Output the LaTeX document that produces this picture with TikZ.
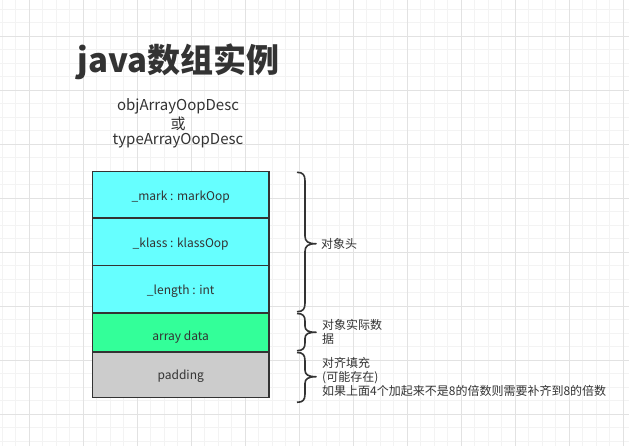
\documentclass[tikz,border=0pt]{standalone}
\usepackage{fontspec}
\setmainfont{Noto Sans CJK SC}
\definecolor{gridminor}{HTML}{F3F3F3}
\definecolor{gridmajor}{HTML}{E2E2E2}
\definecolor{inkc}{HTML}{333333}
\definecolor{cyanfill}{HTML}{66FFFF}
\definecolor{greenfill}{HTML}{33FF99}
\definecolor{grayfill}{HTML}{CCCCCC}
\tikzset{
  cell/.style={draw=inkc, line width=1.6pt, minimum width=176.7pt, inner sep=0pt, text=inkc,
    text height=10.5pt, text depth=0pt, font=\fontsize{12}{14}\selectfont},
  lbl/.style={anchor=west, align=left, inner sep=0pt, text=inkc, font=\fontsize{12}{14}\selectfont},
  bracestyle/.style={draw=inkc, line width=1.6pt, line join=round},
}
\begin{document}
\begin{tikzpicture}[x=1pt,y=-1pt]
\useasboundingbox (0,0) rectangle (629,446);
\fill[white] (0,0) rectangle (629,446);
% grid
\foreach \i in {0,...,46} {
  \draw[gridminor, line width=0.8pt] ({2.3+13.5*\i},0) -- ({2.3+13.5*\i},446);
}
\foreach \i in {0,...,33} {
  \draw[gridminor, line width=0.8pt] (0,{9+13.5*\i}) -- (629,{9+13.5*\i});
}
\foreach \i in {0,...,11} {
  \draw[gridmajor, line width=0.8pt] ({29.3+54*\i},0) -- ({29.3+54*\i},446);
}
\foreach \i in {0,...,7} {
  \draw[gridmajor, line width=0.8pt] (0,{36+54*\i}) -- (629,{36+54*\i});
}
% title
\node[text=inkc, font=\fontsize{33}{36}\selectfont\bfseries, inner sep=0pt] (title) at (178.5,62) {java数组实例};
\node[text=inkc, font=\fontsize{15}{18}\selectfont, inner sep=0pt] (sub1) at (178,106) {objArrayOopDesc};
\node[text=inkc, font=\fontsize{15}{18}\selectfont, inner sep=0pt] (sub2) at (178,124) {或};
\node[text=inkc, font=\fontsize{15}{18}\selectfont, inner sep=0pt] (sub3) at (178,141) {typeArrayOopDesc};
% boxes
\node[cell, fill=cyanfill, minimum height=46.6pt] (mark) at (180.7,195) {\_mark : markOop};
\node[cell, fill=cyanfill, minimum height=47.4pt] (klass) at (180.7,242) {\_klass : klassOop};
\node[cell, fill=cyanfill, minimum height=47pt] (len) at (180.7,289.2) {\_length : int};
\node[cell, fill=greenfill, minimum height=39pt] (arr) at (180.7,332.2) {};
\node[text=inkc, font=\fontsize{12}{14}\selectfont, inner sep=0pt, anchor=base] (arrtext) at (180.7,340) {array data};
\node[cell, fill=grayfill, minimum height=45.6pt] (pad) at (180.7,374.5) {padding};
% braces
\draw[bracestyle] (297,172.3) .. controls (303,172.3) and (305,175) .. (305,181)
  -- (305,236) .. controls (305,241.5) and (308,243.7) .. (316,243.7)
  .. controls (308,243.7) and (305,246) .. (305,251.5)
  -- (305,303) .. controls (305,309) and (303,311.7) .. (297,311.7);
\draw[bracestyle] (297,313.5) .. controls (303,313.5) and (305,316) .. (305,321)
  -- (305,326) .. controls (305,330.5) and (308,332.3) .. (316,332.3)
  .. controls (308,332.3) and (305,334) .. (305,338.5)
  -- (305,343) .. controls (305,348) and (303,350.7) .. (297,350.7);
\draw[bracestyle] (297,352.5) .. controls (303,352.5) and (305,355) .. (305,361)
  -- (305,370) .. controls (305,374.5) and (308,376.7) .. (316,376.7)
  .. controls (308,376.7) and (305,379) .. (305,383.5)
  -- (305,394) .. controls (305,400) and (303,402.3) .. (297,402.3);
% labels
\node[lbl] (l1) at (321,243.7) {对象头};
\node[lbl] (l2) at (322,332) {对象实际数\\据};
\node[lbl] (l3) at (322,377) {对齐填充\\(可能存在)\\如果上面4个加起来不是8的倍数则需要补齐到8的倍数};
\end{tikzpicture}
\end{document}
